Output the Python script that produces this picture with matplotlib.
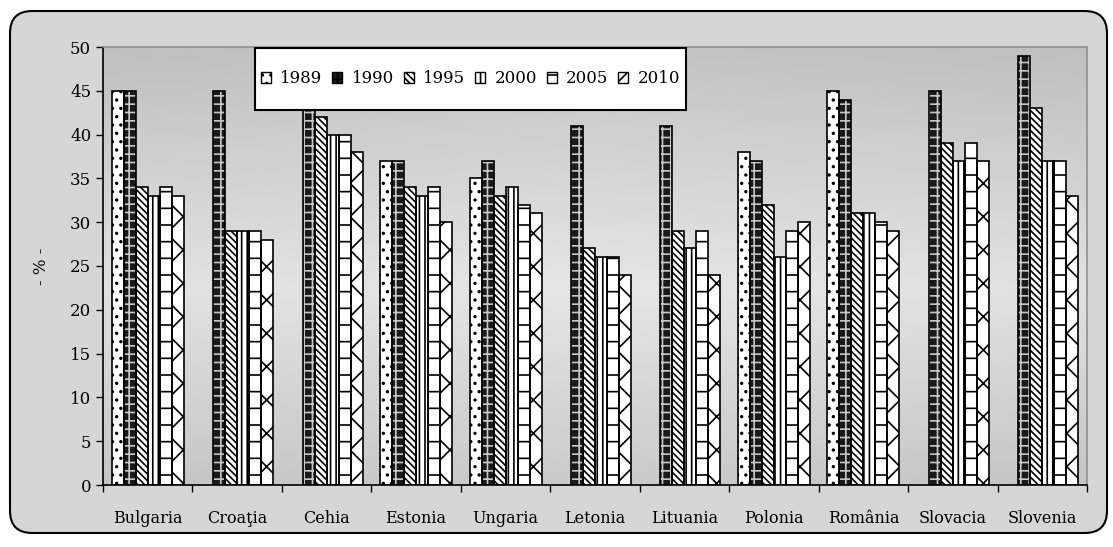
import matplotlib
matplotlib.use("Agg")
import matplotlib.pyplot as plt
import numpy as np
from matplotlib.patches import FancyBboxPatch, Patch, Rectangle

countries = ["Bulgaria", "Croaţia", "Cehia", "Estonia", "Ungaria", "Letonia",
             "Lituania", "Polonia", "România", "Slovacia", "Slovenia"]
years = ["1989", "1990", "1995", "2000", "2005", "2010"]

# nan = no bar in the original
v1989 = [45, np.nan, np.nan, 37, 35, np.nan, np.nan, 38, 45, np.nan, np.nan]
v1990 = [45, 45, 46, 37, 37, 41, 41, 37, 44, 45, 49]
v1995 = [34, 29, 42, 34, 33, 27, 29, 32, 31, 39, 43]
v2000 = [33, 29, 40, 33, 34, 26, 27, 26, 31, 37, 37]
v2005 = [34, 29, 40, 34, 32, 26, 29, 29, 30, 39, 37]
v2010 = [33, 28, 38, 30, 31, 24, 24, 30, 29, 37, 33]
series = [v1989, v1990, v1995, v2000, v2005, v2010]

# stil per serie: (fata, culoare hasura, hasura)
styles = [
    ("white", "black", ".."),
    ("#1a1a1a", "#c8c8c8", "++"),
    ("white", "black", "\\\\\\\\\\"),
    ("white", "black", "|||"),
    ("white", "black", "-"),
    ("white", "black", "x"),
]

plt.rcParams["font.family"] = ["DejaVu Serif"]
plt.rcParams["hatch.linewidth"] = 1.2

fig = plt.figure(figsize=(11.13, 5.47), dpi=100)
fig.patch.set_facecolor("white")
W, H = 1113, 547

# chenarul rotunjit exterior
frame = FancyBboxPatch((10 / W, 14 / H), 1097 / W, 522 / H,
                       boxstyle="round,pad=0,rounding_size=0.02",
                       transform=fig.transFigure, facecolor="#d6d6d6",
                       edgecolor="black", linewidth=1.5, zorder=-5,
                       mutation_aspect=W / H)
fig.patches.append(frame)

ax = fig.add_axes([103 / W, (H - 485) / H, 984 / W, 438 / H])
ax.set_zorder(2)
ax.set_facecolor("none")

# fundal gradient
t = np.linspace(0, 1, 200)[:, None]
s = np.linspace(0, 1, 200)[None, :]
grad = 0.76 + 0.12 * (1 - np.abs(2 * t - 1.1)) + 0.02 * (1 - np.abs(2 * s - 1))
ax.imshow(grad, cmap="gray", vmin=0, vmax=1, extent=(-0.5, 10.5, 0, 50),
          aspect="auto", zorder=0)

x = np.arange(len(countries))
w = 0.134
for i, (vals, (fc, hc, hatch)) in enumerate(zip(series, styles)):
    pos = x + (i - 2.5) * w
    ax.bar(pos, vals, width=w, align="center", facecolor=fc, edgecolor=hc,
           hatch=hatch, linewidth=0, zorder=2)
    ax.bar(pos, vals, width=w, align="center", fill=False, edgecolor="black",
           linewidth=1.2, zorder=3)

ax.set_xlim(-0.5, 10.5)
ax.set_ylim(0, 50)
ax.set_yticks(np.arange(0, 51, 5))
ax.set_xticks(x)
ax.set_xticklabels(countries)
ax.set_xticks(np.arange(-0.5, 11, 1), minor=True)
ax.tick_params(axis="x", which="major", length=0, pad=18, labelsize=11.5)
ax.tick_params(axis="x", which="minor", length=5, width=1, direction="out")
ax.tick_params(axis="y", length=5, width=1, direction="out", labelsize=12)
ax.set_ylabel("- % -", fontsize=12, labelpad=14)

for side in ("left", "bottom"):
    ax.spines[side].set_color("black")
    ax.spines[side].set_linewidth(1.2)
for side in ("top", "right"):
    ax.spines[side].set_color("#909090")
    ax.spines[side].set_linewidth(1.2)

# caseta legendei
box = Rectangle((0.1545, 0.856), 0.438, 0.1417, transform=ax.transAxes,
                facecolor="white", edgecolor="black", linewidth=1.5, zorder=5)
ax.add_patch(box)

handles = []
for fc, hc, hatch in styles:
    handles.append(Patch(facecolor=fc, edgecolor="black", hatch=hatch, linewidth=1))
leg = ax.legend(handles, years, ncol=6, loc="center",
                bbox_to_anchor=(0.3735, 0.927), fontsize=12,
                handlelength=0.6, handleheight=0.6, handletextpad=0.55,
                columnspacing=0.6, borderpad=0.2, borderaxespad=0,
                frameon=False)
leg.set_zorder(6)

fig.savefig("out.png", dpi=100)
